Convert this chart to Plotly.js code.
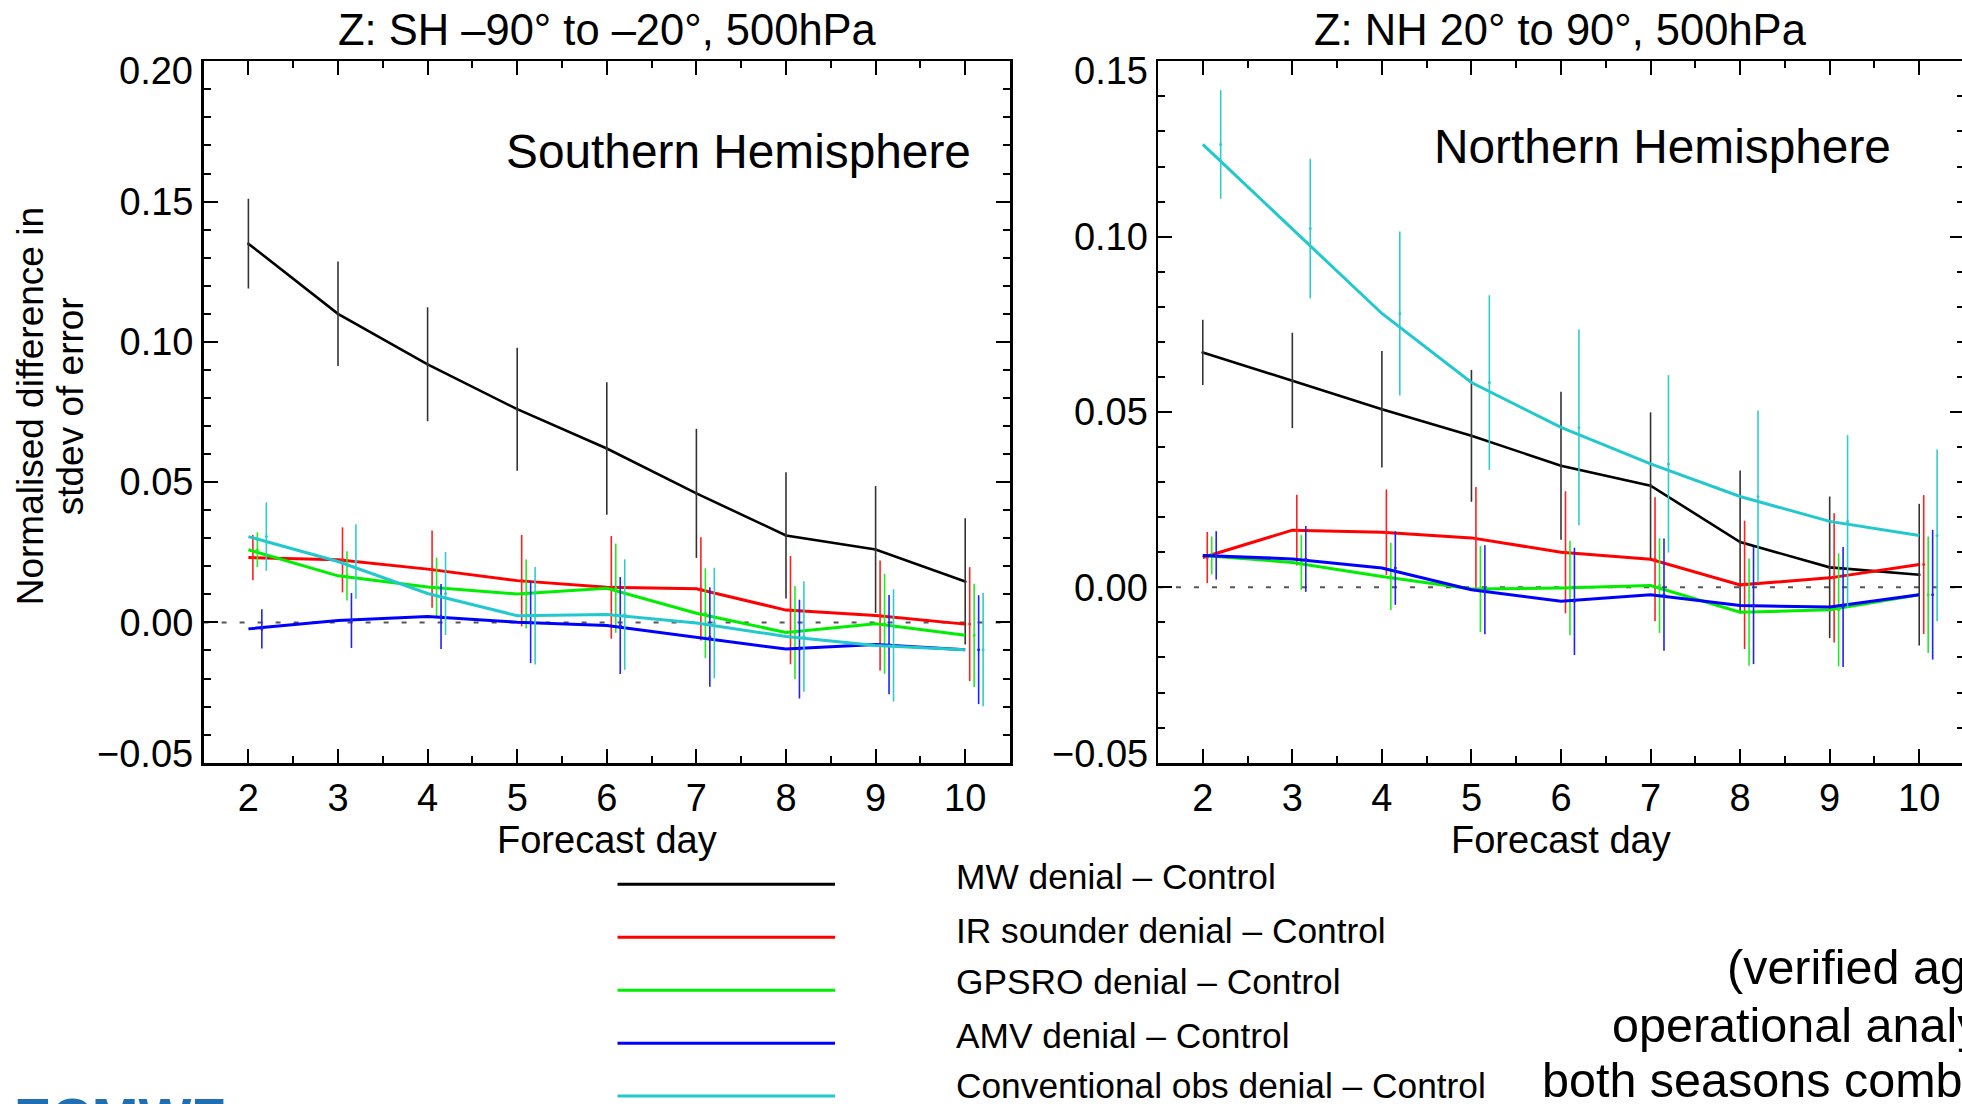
<!DOCTYPE html>
<html><head><meta charset="utf-8">
<script src="https://cdn.plot.ly/plotly-3.0.1.min.js"></script>
<style>html,body{margin:0;padding:0;overflow:hidden;background:#fff}</style>
</head><body><div id="chart" style="width:1966px;height:1104px"></div>
<script>
// ---------------- data ----------------
const forecastDays = [2, 3, 4, 5, 6, 7, 8, 9, 10];
const seriesNames = ["MW denial – Control", "IR sounder denial – Control", "GPSRO denial – Control", "AMV denial – Control", "Conventional obs denial – Control"];
const panelTitles = ["Z: SH –90° to –20°, 500hPa", "Z: NH 20° to 90°, 500hPa"];
const panelLabels = ["Southern Hemisphere", "Northern Hemisphere"];
const xAxisLabel = "Forecast day";
const yAxisLabelLines = ["Normalised difference in", "stdev of error"];
const noteLines = ["(verified against", "operational analyses,", "both seasons combined)"];
const logoText = "ECMWF";
const shTickVals = [-0.05, 0.00, 0.05, 0.10, 0.15, 0.20];
const shTickText = ["−0.05", "0.00", "0.05", "0.10", "0.15", "0.20"];
const nhTickVals = [-0.05, 0.00, 0.05, 0.10, 0.15];
const nhTickText = ["−0.05", "0.00", "0.05", "0.10", "0.15"];

// Southern Hemisphere (values and half-length of confidence bars)
const shMW = [0.135, 0.110, 0.092, 0.076, 0.062, 0.046, 0.031, 0.026, 0.0146];
const shMWErr = [0.016, 0.0186, 0.0203, 0.0219, 0.0236, 0.023, 0.0225, 0.0226, 0.0225];
const shIR = [0.0231, 0.0223, 0.019, 0.0149, 0.0125, 0.012, 0.0044, 0.0025, -0.0006];
const shIRErr = [0.0081, 0.0116, 0.0138, 0.0163, 0.0183, 0.0184, 0.0193, 0.0196, 0.0203];
const shGPSRO = [0.0259, 0.0166, 0.0126, 0.0101, 0.0122, 0.0033, -0.0036, -0.0005, -0.0046];
const shGPSROErr = [0.0062, 0.0088, 0.0105, 0.0123, 0.0159, 0.016, 0.0166, 0.0178, 0.0184];
const shAMV = [-0.0023, 0.0007, 0.0021, 0.0001, -0.0011, -0.0052, -0.0095, -0.0079, -0.0097];
const shAMVErr = [0.007, 0.0098, 0.0116, 0.0146, 0.0173, 0.0177, 0.0176, 0.0177, 0.0194];
const shConv = [0.0306, 0.0217, 0.0103, 0.0024, 0.0028, -0.0002, -0.005, -0.0082, -0.0097];
const shConvErr = [0.0122, 0.0133, 0.0148, 0.0174, 0.0197, 0.0197, 0.0197, 0.02, 0.0202];

// Northern Hemisphere
const nhMW = [0.067, 0.059, 0.0508, 0.0432, 0.0347, 0.029, 0.0129, 0.0057, 0.0036];
const nhMWErr = [0.0093, 0.0136, 0.0166, 0.0188, 0.0211, 0.0209, 0.0204, 0.0202, 0.0202];
const nhIR = [0.0085, 0.0163, 0.0157, 0.0141, 0.010, 0.008, 0.0007, 0.0027, 0.0065];
const nhIRErr = [0.0073, 0.0101, 0.0122, 0.0145, 0.0174, 0.0177, 0.0183, 0.0184, 0.0198];
const nhGPSRO = [0.0091, 0.0071, 0.0031, -0.0005, -0.0002, 0.0005, -0.0071, -0.0064, -0.0021];
const nhGPSROErr = [0.0054, 0.0078, 0.0096, 0.0123, 0.0135, 0.0135, 0.0153, 0.0161, 0.0166];
const nhAMV = [0.0091, 0.0081, 0.0055, -0.0007, -0.004, -0.0021, -0.0052, -0.0056, -0.0021];
const nhAMVErr = [0.0069, 0.0094, 0.0105, 0.0127, 0.0153, 0.016, 0.0167, 0.0171, 0.0185];
const nhConv = [0.1263, 0.1023, 0.0781, 0.0584, 0.0456, 0.0352, 0.0259, 0.0188, 0.0148];
const nhConvErr = [0.0155, 0.0199, 0.0234, 0.0249, 0.0279, 0.0253, 0.0245, 0.0246, 0.0245];

// ---------------- style ----------------
const W = 1966, H = 1104;
const F = "'Liberation Sans', Arial, Helvetica, sans-serif";
const colors = ['#000000', '#ff0000', '#00ee00', '#0000ff', '#22c8cc'];
const barColors = ['#333333', '#ff2020', '#20ee20', '#2020ff', '#30cccc'];
const barOffset = 0.05;
const px = x => x / W;
const py = y => 1 - y / H;

const traces = [];
function addPanel(vals, errs, xa, ya) {
  vals.forEach((v, k) => {
    traces.push({type: 'scatter', mode: 'lines', x: forecastDays, y: v, xaxis: xa, yaxis: ya,
      line: {color: colors[k], width: k === 0 ? 2.6 : 3}, hoverinfo: 'skip', showlegend: false, name: seriesNames[k]});
    traces.push({type: 'scatter', mode: 'markers', x: forecastDays.map(d => d + k * barOffset), y: v, xaxis: xa, yaxis: ya,
      marker: {size: 3, color: barColors[k]},
      error_y: {type: 'data', array: errs[k], symmetric: true, visible: true, color: barColors[k], thickness: 1.6, width: 0},
      hoverinfo: 'skip', showlegend: false});
  });
}
addPanel([shMW, shIR, shGPSRO, shAMV, shConv], [shMWErr, shIRErr, shGPSROErr, shAMVErr, shConvErr], 'x', 'y');
addPanel([nhMW, nhIR, nhGPSRO, nhAMV, nhConv], [nhMWErr, nhIRErr, nhGPSROErr, nhAMVErr, nhConvErr], 'x2', 'y2');

const axBase = {showline: true, linecolor: '#000', linewidth: 2.5, mirror: 'ticks', ticks: 'inside', ticklen: 14,
  tickwidth: 2, tickcolor: '#000', showgrid: false, zeroline: false, fixedrange: true,
  tickfont: {family: F, size: 38, color: '#000'}};
const xBase = Object.assign({}, axBase, {range: [1.5, 10.5], tickmode: 'linear', tick0: 2, dtick: 1,
  minor: {tick0: 1.5, dtick: 0.5, ticks: 'inside', ticklen: 7, tickwidth: 2, tickcolor: '#000', showgrid: false},
  ticklabelstandoff: 0});

function minorVals(lo, hi) {
  const out = [];
  for (let i = Math.round(lo * 100); i <= Math.round(hi * 100); i++) out.push(i / 100);
  return out;
}
// the end labels are drawn as annotations (pulled inward, as in the reference)
function yAxis(vals, texts, range) {
  return Object.assign({}, axBase, {range: range, tickmode: 'array', tickvals: vals,
    ticktext: texts.map((t, i) => (i === 0 || i === texts.length - 1) ? '' : t),
    minor: {tickmode: 'array', tickvals: minorVals(vals[0], vals[vals.length - 1]), ticks: 'inside', ticklen: 7, tickwidth: 2, tickcolor: '#000', showgrid: false},
    ticklabelstandoff: 0.5});
}

const yDom = [py(763), py(61)];
const layout = {
  width: W, height: H, autosize: false,
  margin: {l: 0, r: 0, t: 0, b: 0, pad: 0},
  paper_bgcolor: '#fff', plot_bgcolor: '#fff',
  showlegend: false,
  xaxis: Object.assign({}, xBase, {domain: [px(203.6), px(1010)], anchor: 'y'}),
  yaxis: Object.assign(yAxis(shTickVals, shTickText, [-0.0501, 0.2001]), {domain: yDom, anchor: 'x'}),
  xaxis2: Object.assign({}, xBase, {domain: [px(1158), px(1964)], anchor: 'y2'}),
  yaxis2: Object.assign(yAxis(nhTickVals, nhTickText, [-0.0501, 0.1501]), {domain: yDom, anchor: 'x2'}),
  shapes: [],
  annotations: []
};

// zero reference lines
[['x', 'y'], ['x2', 'y2']].forEach(([xa, ya]) => {
  layout.shapes.push({type: 'line', xref: xa + ' domain', yref: ya, x0: 0, x1: 1, y0: 0, y1: 0, layer: 'below',
    line: {color: '#555', width: 2, dash: '5px,13px'}});
});

function ann(text, x, y, size, opts) {
  layout.annotations.push(Object.assign({text: text, xref: 'paper', yref: 'paper', x: px(x), y: py(y),
    xanchor: 'center', yanchor: 'middle', showarrow: false, font: {family: F, size: size, color: '#000'}}, opts || {}));
}
// end tick labels on the y axes
[[shTickVals, shTickText, 'y', 195], [nhTickVals, nhTickText, 'y2', 1149.5]].forEach(([vals, texts, ya, xr]) => {
  const n = vals.length - 1;
  ann(texts[0], xr, 0, 38, {yref: ya, y: vals[0], xanchor: 'right', yshift: 9});
  ann(texts[n], xr, 0, 38, {yref: ya, y: vals[n], xanchor: 'right', yshift: -10});
});

// panel titles and labels
ann(panelTitles[0], 607, 30, 43.5);
ann(panelTitles[1], 1560.5, 30, 43.5);
ann(panelLabels[0], 738, 152, 47.8);
ann(panelLabels[1], 1662.5, 146, 47.8);
ann(xAxisLabel, 607, 840, 38);
ann(xAxisLabel, 1561, 840, 38);
ann(yAxisLabelLines[0], 31.3, 406, 37, {textangle: -90});
ann(yAxisLabelLines[1], 71.3, 406, 37, {textangle: -90});

// legend
const legLineY = [884.3, 937.3, 990.3, 1043.3, 1096];
const legTextY = [876, 930, 981.7, 1035, 1085.5];
seriesNames.forEach((name, k) => {
  layout.shapes.push({type: 'line', xref: 'paper', yref: 'paper', x0: px(617.5), x1: px(835), y0: py(legLineY[k]), y1: py(legLineY[k]),
    line: {color: colors[k], width: 3}});
  ann(name, 954, legTextY[k], 35.3, {xanchor: 'left'});
});

// note (runs off the right edge) and logo (runs off the bottom edge), as in the reference
const noteY = [967, 1025, 1080];
noteLines.forEach((t, i) => ann(t, 2072, noteY[i], 48.5, {xanchor: 'right'}));
ann(logoText, 12, 1084.4, 56, {xanchor: 'left', yanchor: 'top', font: {family: F, size: 56, color: '#1f6fb2', weight: 'bold'}});

Plotly.newPlot('chart', traces, layout, {staticPlot: true, displayModeBar: false});
</script>
</body></html>
